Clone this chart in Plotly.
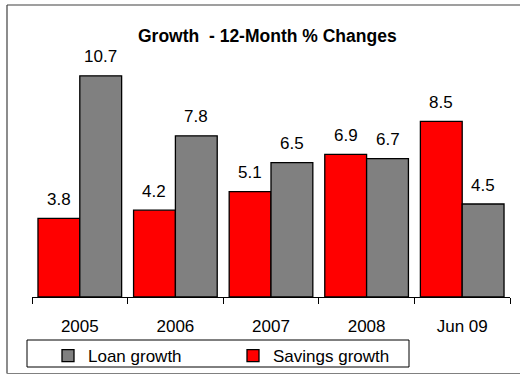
import plotly.graph_objects as go

categories = ["2005", "2006", "2007", "2008", "Jun 09"]
savings_growth = [3.8, 4.2, 5.1, 6.9, 8.5]
loan_growth = [10.7, 7.8, 6.5, 6.7, 4.5]

FONT = "Liberation Sans, Arial, sans-serif"
W, H = 521, 375
ML, MR, MT, MB = 32, 11, 49, 78
PW, PH = W - ML - MR, H - MT - MB


def px(x):
    return (x - ML) / PW


def py(y):
    return (H - MB - y) / PH


fig = go.Figure()
fig.add_trace(go.Bar(
    name="Savings growth", x=categories, y=savings_growth,
    marker=dict(color="#FF0000", line=dict(color="black", width=1.3)),
))
fig.add_trace(go.Bar(
    name="Loan growth", x=categories, y=loan_growth,
    marker=dict(color="#808080", line=dict(color="black", width=1.3)),
))

bargap = 0.125
bw = (1 - bargap) / 2
annotations = []
for i, (s, l) in enumerate(zip(savings_growth, loan_growth)):
    for val, off in ((s, -bw / 2), (l, bw / 2)):
        annotations.append(dict(
            x=i + off, y=val, xref="x", yref="y", text=f"{val:.1f}",
            showarrow=False, yanchor="middle", yshift=19,
            font=dict(family=FONT, size=17, color="black"),
        ))

annotations.append(dict(
    x=px(267), y=py(36), xref="paper", yref="paper",
    text="<b>Growth&nbsp;&nbsp;- 12-Month % Changes</b>", showarrow=False,
    xanchor="center", yanchor="middle",
    font=dict(family=FONT, size=17.5, color="black"),
))

frame = dict(color="#404040", width=1.2)
shapes = [
    dict(type="line", xref="paper", yref="paper",
         x0=px(7), x1=px(520), y0=py(5), y1=py(5), line=frame),
    dict(type="line", xref="paper", yref="paper",
         x0=px(7), x1=px(7), y0=py(5), y1=py(373.5), line=frame),
    dict(type="line", xref="paper", yref="paper",
         x0=px(7), x1=px(520), y0=py(373.5), y1=py(373.5),
         line=dict(color="#808080", width=1.2)),
    dict(type="rect", xref="paper", yref="paper",
         x0=px(27), x1=px(409), y0=py(367), y1=py(340),
         line=dict(color="black", width=1), fillcolor="rgba(0,0,0,0)"),
]

fig.update_layout(
    width=W, height=H,
    margin=dict(l=ML, r=MR, t=MT, b=MB, autoexpand=False),
    paper_bgcolor="white", plot_bgcolor="white",
    barmode="group", bargap=bargap, bargroupgap=0,
    font=dict(family=FONT, size=17, color="black"),
    showlegend=True,
    legend=dict(
        orientation="h", traceorder="reversed",
        x=px(48), xanchor="left", y=py(338), yanchor="top",
        entrywidth=140, entrywidthmode="pixels",
        font=dict(family=FONT, size=17, color="black"),
        bgcolor="rgba(0,0,0,0)", borderwidth=0,
    ),
    xaxis=dict(
        type="category", showline=True, linecolor="black", linewidth=1,
        ticks="outside", tickson="boundaries", ticklen=6, tickcolor="black",
        showgrid=False, ticklabelstandoff=14, automargin=False,
        tickfont=dict(family=FONT, size=17, color="black"),
    ),
    yaxis=dict(range=[0, 12], visible=False, showgrid=False, zeroline=False,
               automargin=False),
    annotations=annotations,
    shapes=shapes,
)

fig.write_html("out.html", config={"displayModeBar": False})
